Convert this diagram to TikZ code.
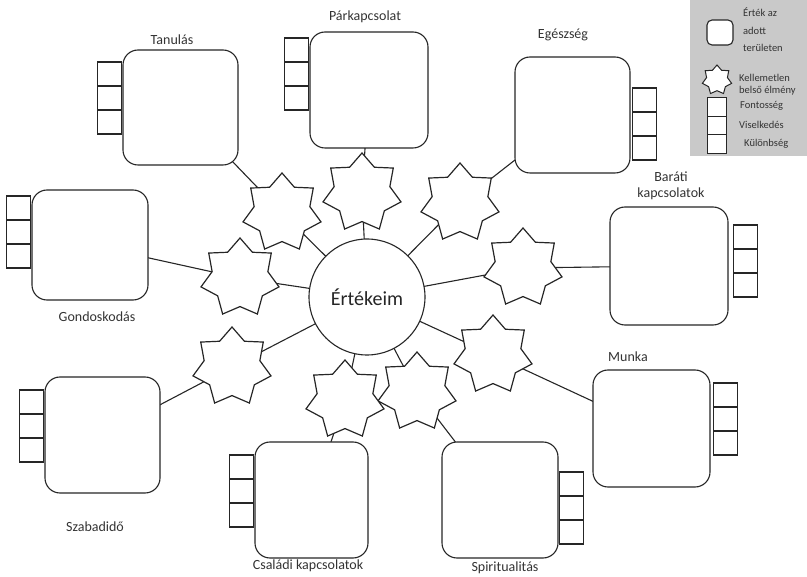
\documentclass[tikz,border=0pt]{standalone}
\usepackage{fontspec}
\setmainfont{Carlito}
\usetikzlibrary{shapes.geometric, calc, backgrounds}

\begin{document}
\begin{tikzpicture}[
    x=1pt, y=-1pt,
    area/.style={draw=black!85, fill=white, rounded corners=15pt, minimum width=116pt, minimum height=116pt, line width=1.1pt},
    cell/.style={draw=black!85, fill=white, minimum size=24pt, inner sep=0pt, line width=1.1pt},
    pain/.style={star, star points=7, star point ratio=1.4, draw=black!85, fill=white, minimum size=80pt, inner sep=0pt, line width=1.2pt},
    lbl/.style={font=\fontsize{14}{16}\selectfont, text=black!80, align=center},
    leg/.style={font=\fontsize{10.5}{12}\selectfont, text=black!80, align=left, anchor=west, inner sep=0pt},
    link/.style={draw=black!85, line width=1.1pt},
]
\useasboundingbox (0,0) rectangle (807,577);

% =============================================================================
% Centre
% =============================================================================
\node[circle, draw=black!85, fill=white, line width=1.1pt, minimum size=116pt,
      font=\fontsize{20}{22}\selectfont, text=black!85] (val) at (367, 297) {Értékeim};

% =============================================================================
% Areas (boxes)
% =============================================================================
\node[area, minimum width=115pt, minimum height=115pt] (tan) at (180.5, 107.5) {};
\node[area, minimum width=118pt] (par) at (369, 90) {};
\node[area, minimum width=115pt] (ege) at (572.5, 115) {};
\node[area, minimum width=118pt, minimum height=118pt] (bar) at (669, 266) {};
\node[area, minimum width=117pt, minimum height=117pt] (mun) at (651.5, 428.5) {};
\node[area] (spi) at (500, 500) {};
\node[area, minimum width=113pt] (csa) at (311.5, 500) {};
\node[area, minimum width=115pt] (sza) at (102.5, 435) {};
\node[area, minimum height=110pt] (gon) at (90, 245) {};

% Labels
\node[lbl] (l-tan) at (172, 40) {Tanulás};
\node[lbl] (l-par) at (365, 17) {Párkapcsolat};
\node[lbl] (l-ege) at (563, 35) {Egészség};
\node[lbl] (l-bar) at (671, 186) {Baráti\\kapcsolatok};
\node[lbl] (l-mun) at (628, 357) {Munka};
\node[lbl] (l-spi) at (505, 568) {Spiritualitás};
\node[lbl] (l-csa) at (308, 566) {Családi kapcsolatok};
\node[lbl] (l-sza) at (95, 527) {Szabadidő};
\node[lbl] (l-gon) at (97, 317) {Gondoskodás};

% Score cells: left of the box
\foreach \b/\o in {tan/12, par/6, csa/13, sza/13, gon/6}
    \foreach \i in {0,1,2}
        \node[cell, anchor=north east] (\b-c\i) at ($(\b.north west)+(0,\o+24*\i)$) {};

% Score cells: right of the box
\foreach \b/\o/\g in {ege/31/1, bar/18/4, mun/13/2, spi/30/0}
    \foreach \i in {0,1,2}
        \node[cell, anchor=north west] (\b-c\i) at ($(\b.north east)+(\g,\o+24*\i)$) {};

% =============================================================================
% Stars
% =============================================================================
\node[pain] (s-tan) at (282, 213) {};
\node[pain] (s-par) at (362, 193) {};
\node[pain] (s-ege) at (460, 203) {};
\node[pain] (s-bar) at (523, 268) {};
\node[pain] (s-mun) at (493, 355) {};
\node[pain] (s-spi) at (417, 392) {};
\node[pain] (s-csa) at (345, 400) {};
\node[pain] (s-sza) at (232, 367) {};
\node[pain] (s-gon) at (240, 278) {};

% Connectors (behind the shapes)
\begin{pgfonlayer}{background}
\foreach \b in {tan, par, ege, bar, mun, spi, csa, sza, gon}
    \draw[link] (val.center) -- (s-\b.center) -- (\b.center);
\end{pgfonlayer}

% =============================================================================
% Legend
% =============================================================================
\fill[gray!42] (690, 0) rectangle (807, 156);
\node[draw=black!85, fill=white, rounded corners=5pt, line width=1.1pt,
      minimum width=26pt, minimum height=25pt] (k-area) at (720, 32.5) {};
\node[leg, font=\fontsize{10.5}{17.5}\selectfont] (k-area-t) at (743, 30) {Érték az\\adott\\területen};
\node[pain, minimum size=30pt, line width=1pt] (k-star) at (717, 80) {};
\node[leg] (k-star-t) at (739, 85) {Kellemetlen\\belső élmény};
\foreach \i/\t/\dx in {0/Fontosség/740, 1/Viselkedés/739, 2/Különbség/744} {
    \node[cell, minimum size=18.7pt, line width=1pt, anchor=north west] (k-c\i) at (707, 97+18.7*\i) {};
    \node[leg] (k-c\i-t) at (\dx, 106+19*\i) {\t};
}

\end{tikzpicture}
\end{document}
